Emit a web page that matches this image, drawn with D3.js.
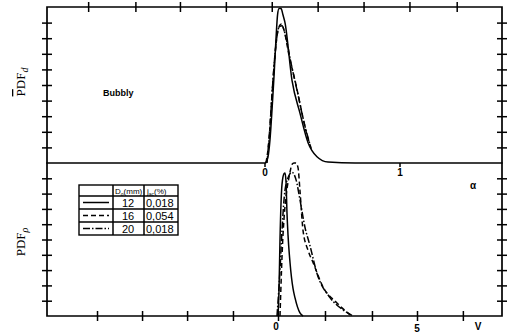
<!DOCTYPE html>
<html lang="en">
<head>
<meta charset="UTF-8">
<title>PDF alpha / V</title>
<style>
  body { margin: 0; background: #fff; }
  svg { display: block; }
  .frame { fill: none; stroke: #000; stroke-width: 1.7px; }
  .tick line, .mark { stroke: #000; stroke-width: 1.5px; }
  .domain { display: none; }
  .curve { fill: none; stroke: #000; stroke-width: 1.5px; }
  .lbl { font: bold 10px "Liberation Sans", sans-serif; }
  .ylab { font: 13px "Liberation Serif", serif; }
  .tbl { font: 11px "Liberation Sans Narrow", "Liberation Sans", sans-serif; }
</style>
</head>
<body>
<svg width="513" height="336"></svg>
<script src="https://d3js.org/d3.v7.min.js"></script>
<script>
// upper panel: PDF of alpha (void fraction)
const alphaSolid = [[-1.62,0],[0,0],[0.022,0.04],[0.037,0.15],[0.052,0.34],[0.067,0.56],[0.081,0.79],[0.093,0.95],[0.104,0.99],[0.119,0.99],[0.133,0.95],[0.148,0.90],[0.2,0.53],[0.259,0.32],[0.319,0.13],[0.385,0.04],[0.467,0.006],[0.667,0],[1.76,0]];
const alphaDash  = [[0.007,0],[0.03,0.15],[0.052,0.44],[0.074,0.69],[0.096,0.85],[0.119,0.89],[0.141,0.85],[0.178,0.69],[0.23,0.50],[0.274,0.32],[0.311,0.18],[0.348,0.08]];
const alphaDot   = [[0.015,0],[0.037,0.24],[0.059,0.53],[0.081,0.76],[0.104,0.87],[0.126,0.88],[0.156,0.80],[0.193,0.64],[0.244,0.44],[0.289,0.26],[0.333,0.12]];

// lower panel: PDF of V
const vSolid = [[0,0],[0.036,0.17],[0.072,0.50],[0.144,0.86],[0.216,0.93],[0.252,0.935],[0.288,0.88],[0.324,0.67],[0.36,0.53],[0.432,0.35],[0.54,0.18],[0.61,0.12],[0.79,0.02],[0.9,0]];
const vDash  = [[0.072,0],[0.18,0.53],[0.432,0.94],[0.5,0.99],[0.576,1.0],[0.647,1.0],[0.72,0.97],[0.79,0.82],[0.9,0.56],[1.08,0.43],[1.26,0.35],[1.62,0.19],[2.12,0.085],[2.59,0.007]];
const vDot   = [[-0.036,0],[0.072,0.30],[0.144,0.56],[0.25,0.82],[0.40,0.92],[0.50,0.94],[0.65,0.89],[0.79,0.76],[0.97,0.58],[1.15,0.46],[1.40,0.28],[1.87,0.12],[2.34,0.04],[2.70,0]];

const alphaTicks = [-1.31,-0.96,-0.63,-0.29,0.05,0.39,0.73,1.07,1.42];
const vTicks = [-6.51,-4.89,-3.27,-1.62,0,1.69,3.38,5.0,6.65];
const pdfTicks = [0.1,0.2,0.3,0.4,0.5,0.6,0.7,0.8,0.9];

const legendD = ["12","16","20"];
const legendJ = ["0,018","0,054","0,018"];
const dashes = [null, "5,3", "7,2,1.5,2"];

const L = 47, R = 502, T = 7, M = 163, B = 316;
const svg = d3.select("svg");

const xA = d3.scaleLinear().domain([0, 1]).range([265, 400]);
const xV = d3.scaleLinear().domain([0, 5]).range([278, 417]);
const yTop = d3.scaleLinear().domain([0, 1]).range([M, T]);
const yBot = d3.scaleLinear().domain([0, 1]).range([B, M]);

// frame (upper panel has no drawn baseline - the curve is its baseline)
svg.append("path").attr("class", "frame")
  .attr("d", `M${L},${M}V${T}H${R}V${B}H${L}V${M}`);

function cross(g, a, b) {
  g.selectAll(".tick line").attr(a, -5).attr(b, 5);
  g.selectAll(".tick text").remove();
}

svg.append("g").attr("transform", `translate(0,${T})`)
  .call(d3.axisTop(xA).tickValues(alphaTicks)).call(g => cross(g, "y1", "y2"));
svg.append("g").attr("transform", `translate(0,${B})`)
  .call(d3.axisBottom(xV).tickValues(vTicks)).call(g => cross(g, "y1", "y2"));
[yTop, yBot].forEach(y => {
  svg.append("g").attr("transform", `translate(${L},0)`)
    .call(d3.axisLeft(y).tickValues(pdfTicks)).call(g => cross(g, "x1", "x2"));
  svg.append("g").attr("transform", `translate(${R},0)`)
    .call(d3.axisRight(y).tickValues(pdfTicks)).call(g => cross(g, "x1", "x2"));
});

// little ticks on alpha axis
[0, 1].forEach(a => svg.append("line").attr("class", "mark")
  .attr("x1", xA(a)).attr("x2", xA(a)).attr("y1", M).attr("y2", M + 4));

const lineA = d3.line().x(d => xA(d[0])).y(d => yTop(d[1])).curve(d3.curveMonotoneX);
const lineV = d3.line().x(d => xV(d[0])).y(d => yBot(d[1])).curve(d3.curveMonotoneX);

[alphaSolid, alphaDash, alphaDot].forEach((d, i) =>
  svg.append("path").attr("class", "curve").attr("d", lineA(d))
    .attr("stroke-dasharray", dashes[i]));
[vSolid, vDash, vDot].forEach((d, i) =>
  svg.append("path").attr("class", "curve").attr("d", lineV(d))
    .attr("stroke-dasharray", dashes[i]));

// axis labels
svg.append("text").attr("class", "lbl").attr("x", xA(0)).attr("y", 176).attr("text-anchor", "middle").text("0");
svg.append("text").attr("class", "lbl").attr("x", xA(1)).attr("y", 176).attr("text-anchor", "middle").text("1");
svg.append("text").attr("class", "lbl").attr("x", 473).attr("y", 189).attr("text-anchor", "middle").text("α");
svg.append("text").attr("class", "lbl").attr("x", xV(0) - 2).attr("y", 330).attr("text-anchor", "middle").text("0");
svg.append("text").attr("class", "lbl").attr("x", xV(5)).attr("y", 332).attr("text-anchor", "middle").text("5");
svg.append("text").attr("class", "lbl").attr("x", 478).attr("y", 330).attr("text-anchor", "middle").text("V");
svg.append("text").attr("class", "lbl").attr("x", 103).attr("y", 96).style("font-size", "9px").text("Bubbly");

// y labels
const yl1 = svg.append("text").attr("class", "ylab")
  .attr("transform", "translate(25,82) rotate(-90)").attr("text-anchor", "middle");
yl1.append("tspan").style("text-decoration", "overline").text("P");
yl1.append("tspan").text("DF");
yl1.append("tspan").attr("dy", 3).style("font-size", "10px").style("font-style", "italic").text("d");

const yl2 = svg.append("text").attr("class", "ylab")
  .attr("transform", "translate(25,242) rotate(-90)").attr("text-anchor", "middle");
yl2.append("tspan").text("PDF");
yl2.append("tspan").attr("dy", 3).style("font-size", "10px").style("font-style", "italic").text("ρ");

// legend table
const tx = [79, 113, 144, 178], ty = [185, 196, 209, 222, 235];
const tbl = svg.append("g");
tbl.append("rect").attr("class", "frame").attr("x", tx[0]).attr("y", ty[0])
  .attr("width", tx[3] - tx[0]).attr("height", ty[4] - ty[0]).style("stroke-width", "1.4px");
tx.slice(1, 3).forEach(x => tbl.append("line").attr("class", "mark")
  .attr("x1", x).attr("x2", x).attr("y1", ty[0]).attr("y2", ty[4]));
ty.slice(1, 4).forEach(y => tbl.append("line").attr("class", "mark")
  .attr("x1", tx[0]).attr("x2", tx[3]).attr("y1", y).attr("y2", y));

const h1 = tbl.append("text").attr("class", "tbl").attr("x", 115).attr("y", 194).style("font-size", "8px");
h1.append("tspan").text("D");
h1.append("tspan").attr("dy", 1.5).style("font-size", "5px").text("o");
h1.append("tspan").attr("dy", -1.5).text("(mm)");
const h2 = tbl.append("text").attr("class", "tbl").attr("x", 147).attr("y", 194).style("font-size", "8px");
h2.append("tspan").text("j");
h2.append("tspan").attr("dy", 1.5).style("font-size", "5px").text("ac");
h2.append("tspan").attr("dy", -1.5).text("(%)");

legendD.forEach((d, i) => {
  const yc = (ty[i + 1] + ty[i + 2]) / 2;
  tbl.append("line").attr("class", "curve").attr("x1", 83).attr("x2", 109)
    .attr("y1", yc).attr("y2", yc).attr("stroke-dasharray", dashes[i]);
  tbl.append("text").attr("class", "tbl").attr("x", 128).attr("y", yc + 4)
    .attr("text-anchor", "middle").text(d);
  tbl.append("text").attr("class", "tbl").attr("x", 146).attr("y", yc + 4).text(legendJ[i]);
});
</script>
</body>
</html>
